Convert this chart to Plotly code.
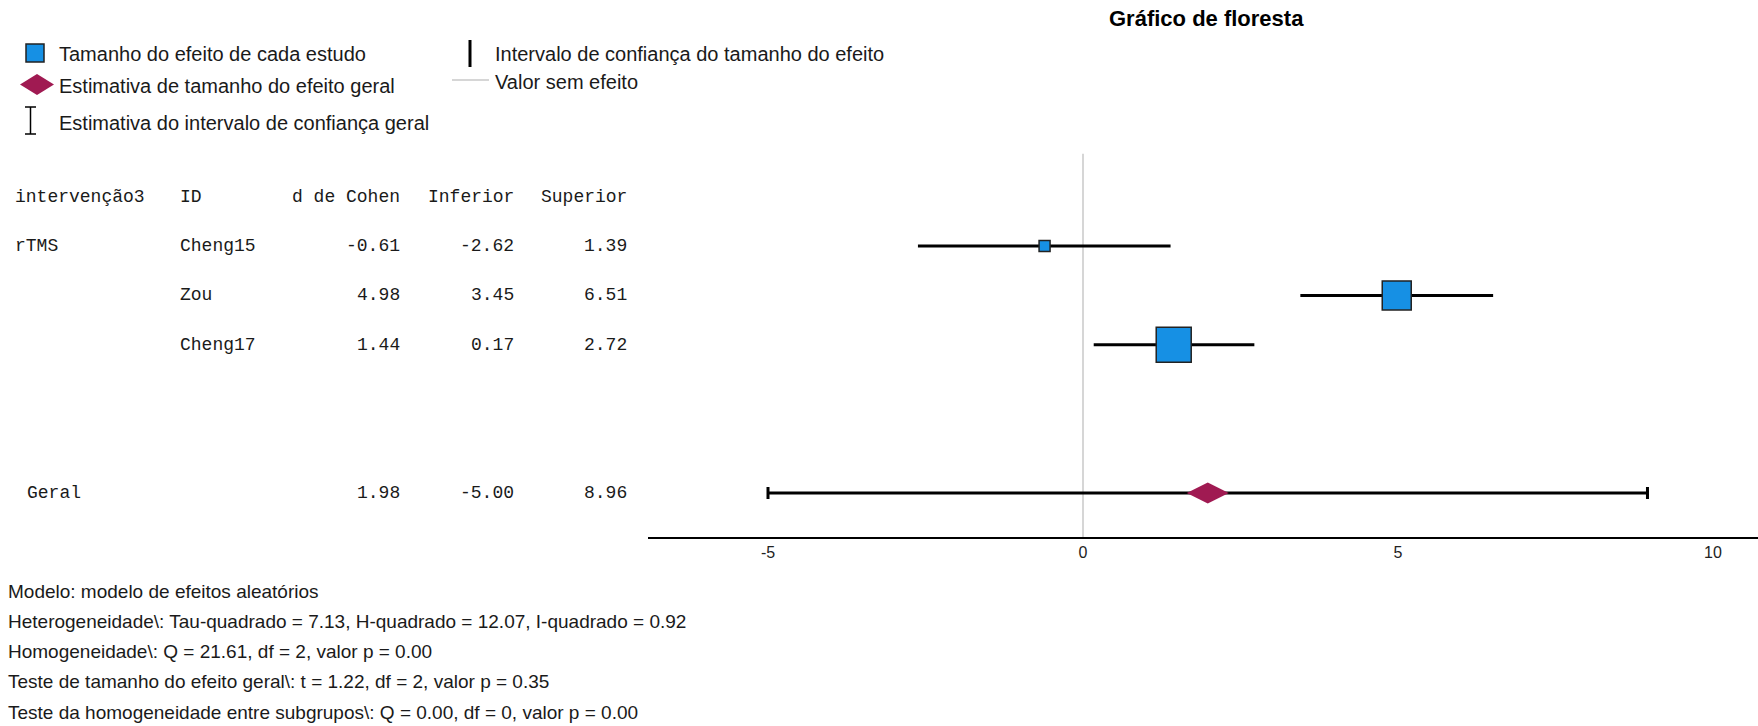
import plotly.graph_objects as go

# ---- data ----
group = ["rTMS", "", ""]
study_ids = ["Cheng15", "Zou", "Cheng17"]
cohen_d = [-0.61, 4.98, 1.44]
ci_lower = [-2.62, 3.45, 0.17]
ci_upper = [1.39, 6.51, 2.72]

overall_label = "Geral"
overall_d = 1.98
overall_lower = -5.00
overall_upper = 8.96

x_ticks = [-5, 0, 5, 10]
x_tick_labels = ["-5", "0", "5", "10"]

header = ["intervenção3", "ID", "d de Cohen", "Inferior", "Superior"]

footnotes = [
    "Modelo: modelo de efeitos aleatórios",
    "Heterogeneidade\\: Tau-quadrado = 7.13, H-quadrado = 12.07, I-quadrado = 0.92",
    "Homogeneidade\\: Q = 21.61, df = 2, valor p = 0.00",
    "Teste de tamanho do efeito geral\\: t = 1.22, df = 2, valor p = 0.35",
    "Teste da homogeneidade entre subgrupos\\: Q = 0.00, df = 0, valor p = 0.00",
]

legend_items_left = [
    "Tamanho do efeito de cada estudo",
    "Estimativa de tamanho do efeito geral",
    "Estimativa do intervalo de confiança geral",
]
legend_items_right = [
    "Intervalo de confiança do tamanho do efeito",
    "Valor sem efeito",
]

# ---- layout / style ----
W, H = 1758, 726
BLUE = "#1690e4"
MAROON = "#a01a52"
TEXT = "#1a1a1a"
SANS = "Liberation Sans, Arial, sans-serif"
MONO = "Liberation Mono, Courier New, monospace"

box_px = [11, 29, 35]          # study marker sizes (weight-scaled)
study_rows = [0, 1, 2]
overall_row = 5


def px(x):
    return x / W


def py(y):
    return 1 - y / H


fig = go.Figure()

# confidence interval lines for each study
for r, lo, hi in zip(study_rows, ci_lower, ci_upper):
    fig.add_trace(go.Scatter(
        x=[lo, hi], y=[r, r], mode="lines",
        line=dict(color="black", width=3), hoverinfo="skip", showlegend=False))

# study effect markers
fig.add_trace(go.Scatter(
    x=cohen_d, y=study_rows, mode="markers",
    marker=dict(symbol="square", size=box_px, color=BLUE, opacity=1,
                line=dict(color="#222222", width=1.5)),
    text=study_ids, showlegend=False))

# overall estimate with capped CI
fig.add_trace(go.Scatter(
    x=[overall_d], y=[overall_row], mode="markers",
    error_x=dict(type="data", symmetric=False,
                 array=[overall_upper - overall_d],
                 arrayminus=[overall_d - overall_lower],
                 color="black", thickness=3, width=6),
    marker=dict(symbol="diamond-wide", size=30, color=MAROON, opacity=1,
                line=dict(width=0)),
    showlegend=False))

annotations = []
shapes = []

# no-effect reference line
shapes.append(dict(type="line", xref="x", yref="y", x0=0, x1=0,
                   y0=-1.87, y1=5.89, line=dict(color="#d6d6d6", width=2),
                   layer="below"))

# title
annotations.append(dict(text="<b>Gráfico de floresta</b>", xref="paper", yref="paper",
                        x=px(1206), y=py(19), xanchor="center", yanchor="middle",
                        showarrow=False, font=dict(family=SANS, size=22, color="black")))

# table columns: (x position px, anchor)
col_pos = [(13, "left"), (178, "left"), (402, "right"), (516, "right"), (629, "right")]
TABLE_FONT = dict(family=MONO, size=18, color=TEXT)


def cell(text, col, row):
    x, anchor = col_pos[col]
    annotations.append(dict(text=text, xref="paper", yref="y", x=px(x), y=row,
                            xanchor=anchor, yanchor="middle", showarrow=False,
                            font=TABLE_FONT))


for i, h in enumerate(header):
    cell(h, i, -1)
for r, g, sid, d, lo, hi in zip(study_rows, group, study_ids, cohen_d, ci_lower, ci_upper):
    if g:
        cell(g, 0, r)
    cell(sid, 1, r)
    cell(f"{d:.2f}", 2, r)
    cell(f"{lo:.2f}", 3, r)
    cell(f"{hi:.2f}", 4, r)
annotations.append(dict(text=overall_label, xref="paper", yref="y", x=px(25), y=overall_row,
                        xanchor="left", yanchor="middle", showarrow=False,
                        font=TABLE_FONT))
cell(f"{overall_d:.2f}", 2, overall_row)
cell(f"{overall_lower:.2f}", 3, overall_row)
cell(f"{overall_upper:.2f}", 4, overall_row)

# footnotes
for i, t in enumerate(footnotes):
    annotations.append(dict(text=t, xref="paper", yref="paper", x=px(6), y=py(591 + 30.3 * i),
                            xanchor="left", yanchor="middle", showarrow=False,
                            font=dict(family=SANS, size=19, color=TEXT)))

# legend: left column
shapes.append(dict(type="rect", xref="paper", yref="paper",
                   x0=px(26), x1=px(44), y0=py(44), y1=py(62),
                   fillcolor=BLUE, line=dict(color="#222222", width=1.5)))
shapes.append(dict(type="path", xref="paper", yref="paper",
                   path=f"M {px(20)},{py(84.5)} L {px(37)},{py(74)} L {px(54)},{py(84.5)} L {px(37)},{py(95)} Z",
                   fillcolor=MAROON, line=dict(width=0)))
for a, b, c, d in [(30.5, 107, 30.5, 134), (25, 107, 36, 107), (25, 134, 36, 134)]:
    shapes.append(dict(type="line", xref="paper", yref="paper",
                       x0=px(a), y0=py(b), x1=px(c), y1=py(d),
                       line=dict(color="black", width=1.5)))
for t, yc in zip(legend_items_left, [54, 86, 123]):
    annotations.append(dict(text=t, xref="paper", yref="paper", x=px(57), y=py(yc),
                            xanchor="left", yanchor="middle", showarrow=False,
                            font=dict(family=SANS, size=20, color=TEXT)))

# legend: right column
shapes.append(dict(type="line", xref="paper", yref="paper",
                   x0=px(470), x1=px(470), y0=py(40), y1=py(67),
                   line=dict(color="black", width=3)))
shapes.append(dict(type="line", xref="paper", yref="paper",
                   x0=px(452), x1=px(489), y0=py(80), y1=py(80),
                   line=dict(color="#d6d6d6", width=2)))
for t, yc in zip(legend_items_right, [54, 82]):
    annotations.append(dict(text=t, xref="paper", yref="paper", x=px(493), y=py(yc),
                            xanchor="left", yanchor="middle", showarrow=False,
                            font=dict(family=SANS, size=20, color=TEXT)))

ppu = 63.0   # pixels per unit on x
zero_px = 1083
x_left = (648 - zero_px) / ppu
x_right = (W - zero_px) / ppu

fig.update_layout(
    width=W, height=H,
    margin=dict(l=0, r=0, t=0, b=0),
    paper_bgcolor="white", plot_bgcolor="white",
    showlegend=False,
    shapes=shapes,
    annotations=annotations,
    xaxis=dict(domain=[px(648), 1.0], range=[x_left, x_right],
               showgrid=False, zeroline=False,
               showline=True, linecolor="black", linewidth=1.5,
               ticks="", tickvals=x_ticks, ticktext=x_tick_labels,
               tickfont=dict(family=SANS, size=16, color="#222222"),
               fixedrange=True),
    yaxis=dict(domain=[py(537), 1.0], range=[5.89, -4.98],
               showgrid=False, zeroline=False, showline=False,
               showticklabels=False, ticks="", fixedrange=True),
)

fig.write_html("out.html")
